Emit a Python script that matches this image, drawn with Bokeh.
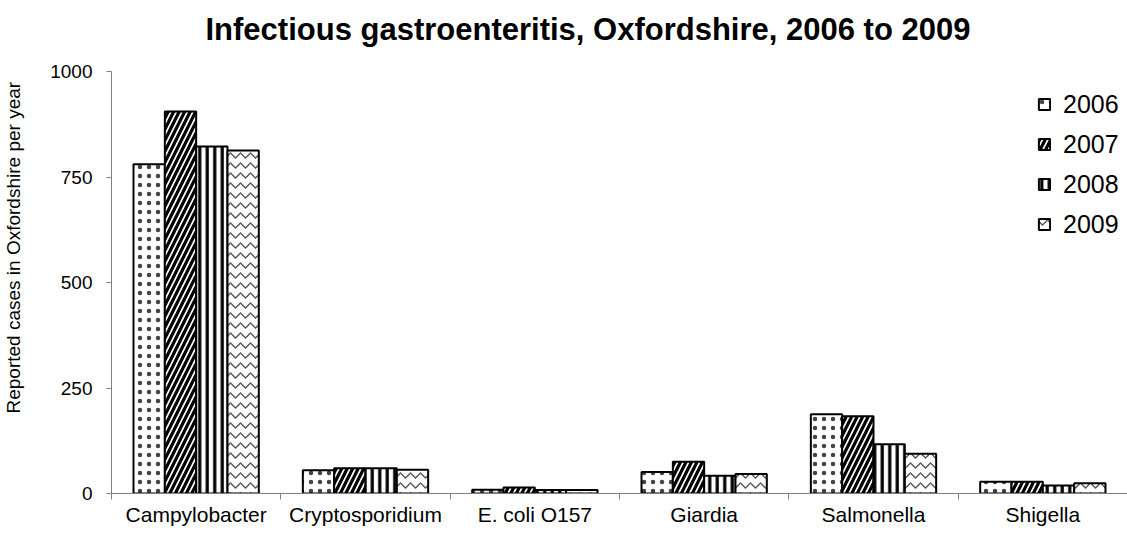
from bokeh.plotting import figure
from bokeh.models import Range1d, FixedTicker, ColumnDataSource, Title
from bokeh.embed import file_html
from bokeh.resources import INLINE

categories = ["Campylobacter", "Cryptosporidium", "E. coli O157", "Giardia", "Salmonella", "Shigella"]
years = ["2006", "2007", "2008", "2009"]
cases_2006 = [780, 55, 9, 51, 188, 28]
cases_2007 = [905, 60, 14, 75, 183, 28]
cases_2008 = [822, 60, 8, 42, 117, 19]
cases_2009 = [813, 56, 8, 46, 94, 24]
series = [cases_2006, cases_2007, cases_2008, cases_2009]
y_ticks = [0, 250, 500, 750, 1000]

FONT = "Liberation Sans"
AXIS_GRAY = "#808080"

p = figure(width=1127, height=534, output_backend="svg", toolbar_location=None, title=None,
           x_range=Range1d(-0.5, len(categories) - 0.5), y_range=Range1d(0, 1000),
           min_border_left=110, min_border_right=0, min_border_top=71, min_border_bottom=41)
p.outline_line_color = None
p.xgrid.visible = False
p.ygrid.visible = False
p.background_fill_color = "white"
p.border_fill_color = "white"

styles = [
    dict(hatch_pattern="dot", hatch_scale=9, hatch_weight=0.8, hatch_color="#444444"),
    dict(hatch_pattern="right_diagonal_line", hatch_scale=11, hatch_weight=3.2, hatch_color="black"),
    dict(hatch_pattern="vertical_line", hatch_scale=7.5, hatch_weight=3.2, hatch_color="black"),
    dict(hatch_pattern="horizontal_wave", hatch_scale=10, hatch_weight=1.3, hatch_color="#555555"),
]

bar_w = 0.185
idx = list(range(len(categories)))
for k, (yr, vals) in enumerate(zip(years, series)):
    src = ColumnDataSource(dict(x=[i + (k - 1.5) * bar_w for i in idx], top=vals))
    p.vbar(x="x", top="top", bottom=0, width=bar_w, source=src,
           fill_color="white", line_color="black", line_width=2,
           legend_label=yr, **styles[k])

# x axis
xa = p.xaxis[0]
xa.ticker = FixedTicker(ticks=idx, minor_ticks=[i - 0.5 for i in range(len(categories) + 1)])
xa.major_label_overrides = {i: c for i, c in enumerate(categories)}
xa.major_tick_out = 0
xa.major_tick_in = 0
xa.minor_tick_out = 6
xa.minor_tick_in = 0
xa.minor_tick_line_color = AXIS_GRAY
xa.axis_line_color = AXIS_GRAY
xa.major_label_text_font = FONT
xa.major_label_text_font_size = "21px"
xa.major_label_text_color = "black"
xa.major_label_standoff = 3

# y axis
ya = p.yaxis[0]
ya.ticker = FixedTicker(ticks=y_ticks, minor_ticks=[])
ya.major_tick_out = 5
ya.major_tick_in = 0
ya.major_tick_line_color = AXIS_GRAY
ya.axis_line_color = AXIS_GRAY
ya.major_label_text_font = FONT
ya.major_label_text_font_size = "19px"
ya.major_label_text_color = "black"
ya.major_label_standoff = 14

# spacers (blank side titles) so the real titles sit where the reference has them
p.add_layout(Title(text=" ", text_font_size="1px", standoff=22), "above")
p.add_layout(Title(text="Infectious gastroenteritis, Oxfordshire, 2006 to 2009",
                   align="left", offset=94, text_font=FONT, text_font_size="31px",
                   text_font_style="bold", text_color="black", standoff=0), "above")

p.add_layout(Title(text=" ", text_font_size="1px", standoff=21), "left")
p.add_layout(Title(text="Reported cases in Oxfordshire per year", align="left", offset=80,
                   text_font=FONT, text_font_size="19px", text_font_style="normal",
                   text_color="black", standoff=0), "left")

lg = p.legend[0]
lg.location = (926, 254)
lg.padding = 0
lg.margin = 0
lg.border_line_alpha = 0
lg.background_fill_alpha = 0
lg.glyph_width = 14
lg.glyph_height = 14
lg.label_height = 30
lg.spacing = 10
lg.label_standoff = 12
lg.label_text_font = FONT
lg.label_text_font_size = "25px"
lg.label_text_color = "black"

open("out.html", "w").write(file_html(p, INLINE))
